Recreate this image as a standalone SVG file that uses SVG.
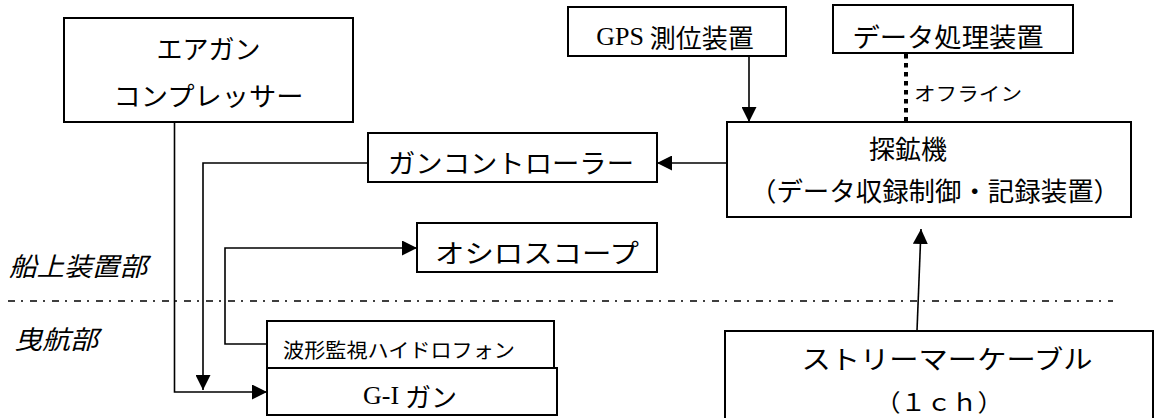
<svg xmlns="http://www.w3.org/2000/svg" width="1156" height="418" viewBox="0 0 1156 418">
<style>
.box{fill:#fff;stroke:#000;stroke-width:2}
.t{font-family:"Noto Sans CJK JP","Noto Sans",sans-serif;fill:#000;text-anchor:middle;dominant-baseline:central}
.s{font-family:"Liberation Serif","Noto Sans CJK JP",serif}
.lab{font-family:"Noto Sans CJK JP",sans-serif;font-style:italic;fill:#000;dominant-baseline:central}
.c{fill:none;stroke:#000;stroke-width:1.6}
</style>
<defs>
<marker id="ah" markerUnits="userSpaceOnUse" markerWidth="15" markerHeight="15" refX="15" refY="7.5" orient="auto">
<path d="M0,0 L15,7.5 L0,15 z" fill="#000"/>
</marker>
</defs>
<g id="connectors">
<polyline class="c" points="174.5,122 174.5,392 267,392" marker-end="url(#ah)"/>
<line class="c" x1="727" y1="163" x2="657" y2="163" marker-end="url(#ah)"/>
<polyline class="c" points="368,163 203,163 203,390" marker-end="url(#ah)"/>
<polyline class="c" points="267,344 225,344 225,248 417,248" marker-end="url(#ah)"/>
<line class="c" x1="749" y1="56" x2="749" y2="122" marker-end="url(#ah)"/>
<line x1="906" y1="54" x2="906" y2="122" stroke="#000" stroke-width="4" stroke-dasharray="4.5 4.5"/>
<line class="c" x1="917" y1="331" x2="921" y2="229" marker-end="url(#ah)"/>
<line x1="8" y1="301" x2="1113" y2="301" stroke="#000" stroke-width="1.6" stroke-dasharray="7 6 2 7"/>
</g>
<g id="compressor">
<rect class="box" x="64" y="18" width="289" height="104"/>
<text class="t" x="208.5" y="47" font-size="26">エアガン</text>
<text class="t" x="208.5" y="94" font-size="26" textLength="190" lengthAdjust="spacingAndGlyphs">コンプレッサー</text>
</g>
<g id="gun-controller">
<rect class="box" x="368" y="133" width="289" height="49"/>
<text class="t" x="511" y="161" font-size="26" textLength="246" lengthAdjust="spacingAndGlyphs">ガンコントローラー</text>
</g>
<g id="gps">
<rect class="box" x="568" y="7" width="218" height="49"/>
<text class="t" x="675" y="36" font-size="26"><tspan class="s">GPS</tspan> 測位装置</text>
</g>
<g id="data-processor">
<rect class="box" x="833" y="5" width="240" height="48"/>
<text class="t" x="948" y="35" font-size="26" textLength="191" lengthAdjust="spacingAndGlyphs">データ処理装置</text>
</g>
<g id="offline-label">
<text class="t" x="968" y="92" font-size="19" textLength="108" lengthAdjust="spacingAndGlyphs">オフライン</text>
</g>
<g id="explorer">
<rect class="box" x="727" y="122" width="404" height="95"/>
<text class="t" x="908" y="147" font-size="26">探鉱機</text>
<text class="t" x="935" y="189" font-size="26" textLength="370" lengthAdjust="spacingAndGlyphs">（データ収録制御・記録装置）</text>
</g>
<g id="oscilloscope">
<rect class="box" x="417" y="223" width="240" height="49"/>
<text class="t" x="537" y="251" font-size="26" textLength="204" lengthAdjust="spacingAndGlyphs">オシロスコープ</text>
</g>
<g id="hydrophone">
<rect class="box" x="267" y="321" width="287" height="47"/>
<text class="t" x="399" y="349" font-size="20" textLength="232" lengthAdjust="spacingAndGlyphs">波形監視ハイドロフォン</text>
</g>
<g id="gi-gun">
<rect class="box" x="267" y="368" width="290" height="47"/>
<text class="t" x="410" y="395" font-size="26"><tspan class="s">G-I</tspan> ガン</text>
</g>
<g id="streamer">
<rect class="box" x="725" y="331" width="428" height="100"/>
<text class="t" x="947" y="357" font-size="26" textLength="291" lengthAdjust="spacingAndGlyphs">ストリーマーケーブル</text>
<text class="t" x="939" y="400" font-size="24" textLength="128" lengthAdjust="spacingAndGlyphs">（１ｃｈ）</text>
</g>
<g id="zone-labels">
<text class="lab" x="9" y="264" font-size="26" textLength="138" lengthAdjust="spacingAndGlyphs">船上装置部</text>
<text class="lab" x="14" y="337" font-size="26" textLength="84" lengthAdjust="spacingAndGlyphs">曳航部</text>
</g>
</svg>
